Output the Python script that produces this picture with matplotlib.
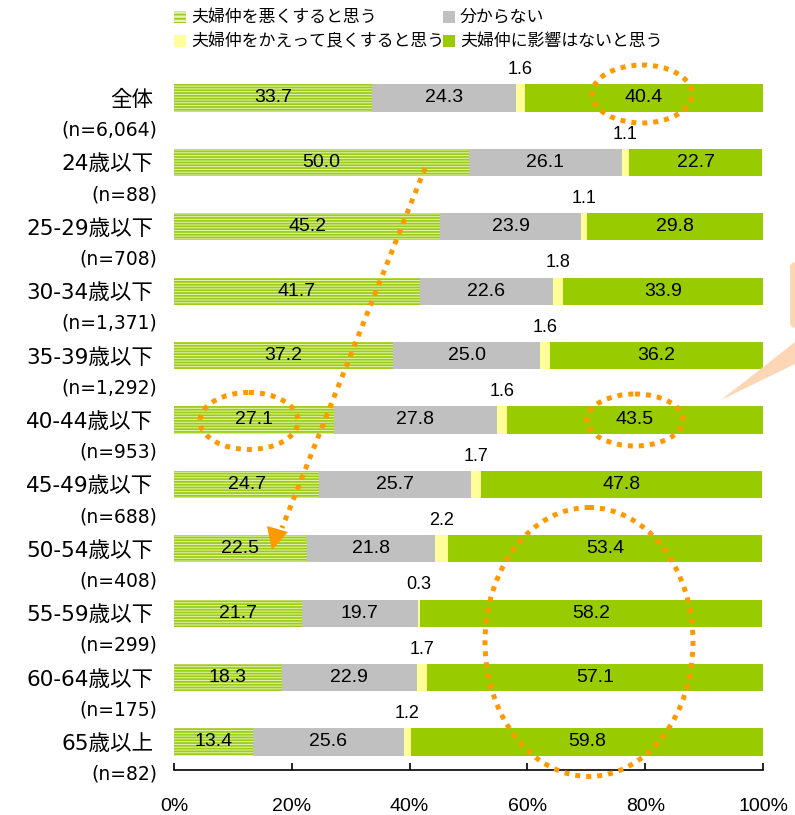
import matplotlib.pyplot as plt
import numpy as np
from matplotlib.patches import Ellipse, Polygon, FancyBboxPatch

plt.rcParams['font.family'] = ['Liberation Sans', 'Noto Sans CJK JP']
plt.rcParams['hatch.linewidth'] = 1.3

cats = ['全体', '24歳以下', '25-29歳以下', '30-34歳以下', '35-39歳以下', '40-44歳以下',
        '45-49歳以下', '50-54歳以下', '55-59歳以下', '60-64歳以下', '65歳以上']
ns = ['(n=6,064)', '(n=88)', '(n=708)', '(n=1,371)', '(n=1,292)', '(n=953)',
      '(n=688)', '(n=408)', '(n=299)', '(n=175)', '(n=82)']
worse = [33.7, 50.0, 45.2, 41.7, 37.2, 27.1, 24.7, 22.5, 21.7, 18.3, 13.4]
unknown = [24.3, 26.1, 23.9, 22.6, 25.0, 27.8, 25.7, 21.8, 19.7, 22.9, 25.6]
better = [1.6, 1.1, 1.1, 1.8, 1.6, 1.6, 1.7, 2.2, 0.3, 1.7, 1.2]
noeffect = [40.4, 22.7, 29.8, 33.9, 36.2, 43.5, 47.8, 53.4, 58.2, 57.1, 59.8]
legend_labels = ['夫婦仲を悪くすると思う', '夫婦仲をかえって良くすると思う', '分からない', '夫婦仲に影響はないと思う']

W, H = 795, 815
fig = plt.figure(figsize=(W / 100, H / 100), dpi=100)
ax = fig.add_axes([174 / W, 1 - 770 / H, 589 / W, 700 / H])

y = np.arange(len(cats))
h = 0.42
left = np.zeros(len(cats))
ax.barh(y, worse, h, left=left, color='#e6f4b4', edgecolor='#9ccc1a', hatch='------', linewidth=0)
left += worse
ax.barh(y, unknown, h, left=left, color='#c0c0c0', linewidth=0)
left += unknown
ax.barh(y, better, h, left=left, color='#ffff99', linewidth=0)
left += better
ax.barh(y, noeffect, h, left=left, color='#99cc00', linewidth=0)

lab_font = ['DejaVu Sans', 'Noto Sans CJK JP']
for i in range(len(cats)):
    ax.text(worse[i] / 2, i, f'{worse[i]:.1f}', ha='center', va='center', fontsize=14)
    ax.text(worse[i] + unknown[i] / 2, i, f'{unknown[i]:.1f}', ha='center', va='center', fontsize=14)
    s = worse[i] + unknown[i]
    ax.text(s + better[i] / 2, i - 0.44, f'{better[i]:.1f}', ha='center', va='center', fontsize=13)
    ax.text(s + better[i] + noeffect[i] / 2, i, f'{noeffect[i]:.1f}', ha='center', va='center', fontsize=14)
    ax.text(-3.5, i + 0.03, cats[i], ha='right', va='center', fontsize=15.5,
            family=lab_font, clip_on=False)
    ax.text(-2.8, i + 0.5, ns[i], ha='right', va='center', fontsize=13.5,
            family=lab_font, clip_on=False)

ax.set_xlim(0, 100)
ax.set_ylim((770 - 98) / 64.4, (70 - 98) / 64.4)
ax.set_xticks(range(0, 101, 20))
ax.set_xticklabels([f'{v}%' for v in range(0, 101, 20)], fontsize=14)
ax.set_yticks([])
for sp in ['left', 'right', 'top']:
    ax.spines[sp].set_visible(False)
ax.spines['bottom'].set_linewidth(1.2)
ax.tick_params(axis='x', direction='in', length=5, width=1.2, pad=20)

# overlay in pixel coordinates for legend and highlights
lg = fig.add_axes([0, 0, 1, 1], zorder=5)
lg.set_xlim(0, W)
lg.set_ylim(H, 0)
lg.axis('off')
leg_pos = [(174, 17), (174, 41), (443, 17), (443, 41)]
leg_style = [dict(facecolor='#e6f4b4', edgecolor='#9ccc1a', hatch='----'),
             dict(facecolor='#ffff99', edgecolor='none'),
             dict(facecolor='#c0c0c0', edgecolor='none'),
             dict(facecolor='#99cc00', edgecolor='none')]
for (lx, ly), st, lab in zip(leg_pos, leg_style, legend_labels):
    lg.add_patch(plt.Rectangle((lx, ly - 6), 12, 12, linewidth=0, **st))
    lg.text(lx + 17, ly, lab, ha='left', va='center', fontsize=12.2)

# orange dotted highlights
orange = '#ff9900'
dots = (0, (1.0, 1.2))
for cx, cy, ew, eh in [(642, 94, 100, 58), (249, 421, 98, 57), (635, 420, 96, 52), (589, 642, 208, 269)]:
    lg.add_patch(Ellipse((cx, cy), ew, eh, fill=False, edgecolor=orange, linewidth=3.6, linestyle=dots))
lg.plot([425, 282], [168, 528], color=orange, linewidth=3.6, linestyle=dots, dash_capstyle='butt')
lg.add_patch(Polygon([[272, 550], [267, 526], [288, 532]], closed=True, facecolor=orange, edgecolor='none'))

# callout partially visible at right edge
lg.add_patch(FancyBboxPatch((790, 262), 40, 66, boxstyle='round,pad=0,rounding_size=6',
                            facecolor='#fdd3ad', edgecolor='none', alpha=0.9))
lg.add_patch(Polygon([[795, 342], [795, 364], [721, 400]], closed=True, facecolor='#fdd3ad', edgecolor='none', alpha=0.9))

fig.savefig('out.png', dpi=100)
